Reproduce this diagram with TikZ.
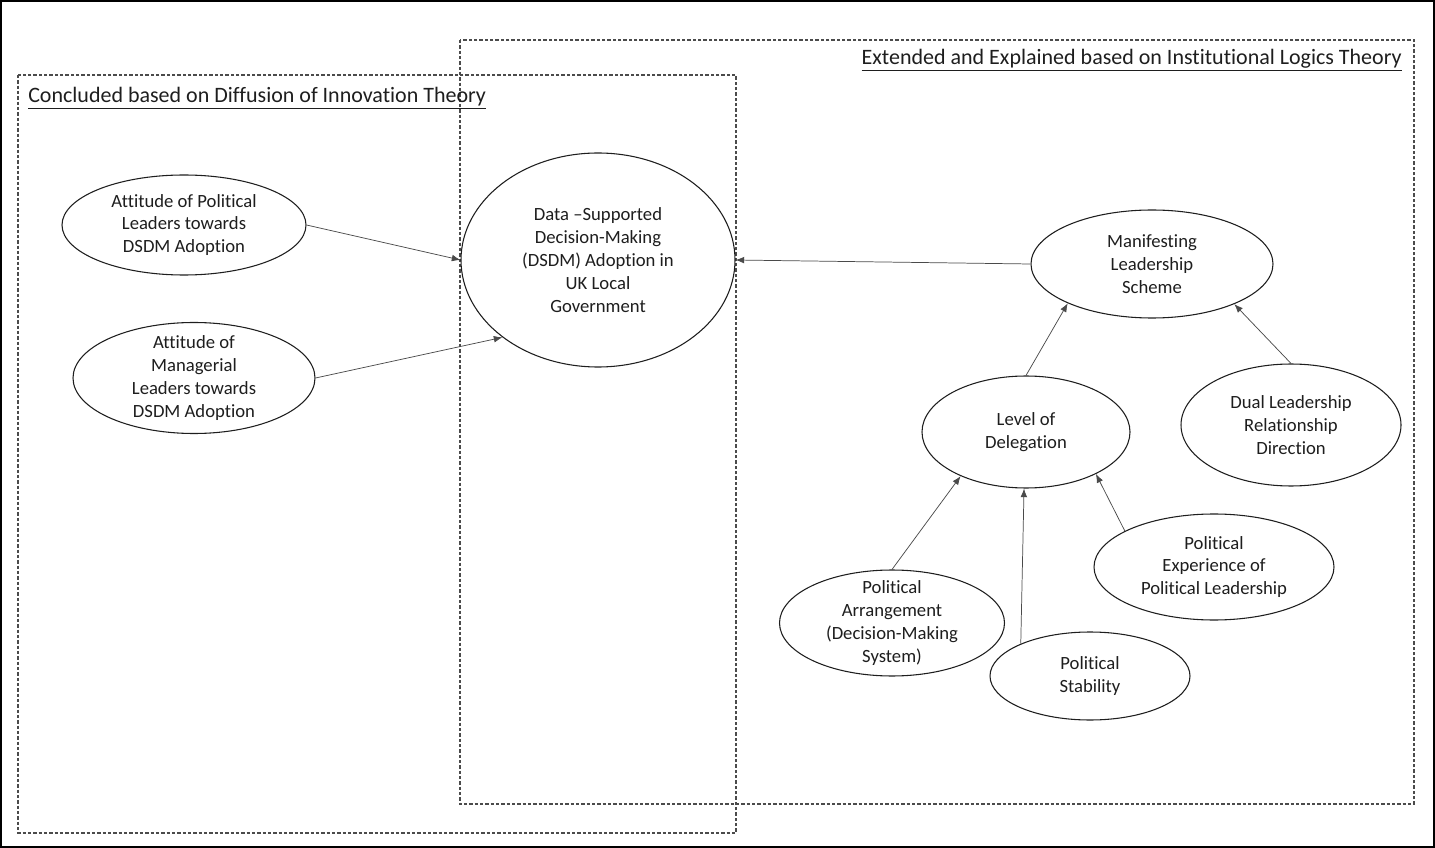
\documentclass[tikz,border=0pt]{standalone}
\usepackage{fontspec}
\setmainfont{Carlito}[Ligatures=NoCommon]
\usetikzlibrary{shapes.geometric,arrows.meta}
\definecolor{ink}{HTML}{1E1E1E}
\definecolor{arrowgray}{HTML}{4A4A4A}
\begin{document}
\begin{tikzpicture}[x=0.75pt,y=-0.75pt,
  every node/.style={font=\fontsize{14}{17.1}\selectfont, text=ink},
  esize/.style 2 args={minimum width=#1*0.75pt, minimum height=#2*0.75pt},
  concept/.style={draw=ink, line width=0.8pt, ellipse, inner sep=0pt, fill=white},
  txt/.style={label={[align=center, text=ink, font=\fontsize{14}{17.1}\selectfont]center:#1}},
  frame/.style={draw=ink!80, line width=0.8pt, dash pattern=on 2.4pt off 1.6pt},
  heading/.style={inner sep=0pt, font=\fontsize{16.5}{20}\selectfont},
  link/.style={draw=arrowgray, line width=0.55pt, -{Latex[length=6.5pt,width=5pt]}}
]
\useasboundingbox (0,0) rectangle (1435,848);
\draw[line width=1.6pt, black] (1,1) rectangle (1434,847);

% theory frames
\draw[frame] (18,75) rectangle (736,833);
\draw[frame] (460,40) rectangle (1414,804);
\node[heading, anchor=base west] (ldoi) at (28,103) {\underline{Concluded based on Diffusion of Innovation Theory}};
\node[heading, anchor=base east] (lilt) at (1402,65) {\underline{Extended and Explained based on Institutional Logics Theory}};

% concepts
\node[concept, esize={244}{100}, txt={Attitude of Political\\Leaders towards\\DSDM Adoption}] (pl) at (184,225) {};
\node[concept, esize={242}{111}, txt={Attitude of\\Managerial\\Leaders towards\\DSDM Adoption}] (ml) at (194,378) {};
\node[concept, esize={274}{214}, txt={Data --Supported\\Decision-Making\\(DSDM) Adoption in\\UK Local\\Government}] (ds) at (598,260) {};
\node[concept, esize={242}{108}, txt={Manifesting\\Leadership\\Scheme}] (ms) at (1152,264) {};
\node[concept, esize={208}{112}, txt={Level of\\Delegation}] (lv) at (1026,432) {};
\node[concept, esize={220}{122}, txt={Dual Leadership\\Relationship\\Direction}] (dl) at (1291,425) {};
\node[concept, esize={240}{106}, txt={Political\\Experience of\\Political Leadership}] (pe) at (1214,567) {};
\node[concept, esize={225}{106}, txt={Political\\Arrangement\\(Decision-Making\\System)}] (pa) at (892,623) {};
\node[concept, esize={200}{88}, txt={Political\\Stability}] (ps) at (1090,676) {};

% influences
\draw[link] (pl.east) -- (ds.west);
\draw[link] (ml.east) -- (ds.219);
\draw[link] (ms.west) -- (ds.east);
\draw[link] (lv.north) -- (ms.205);
\draw[link] (dl.north) -- (ms.334);
\draw[link] (pa.north) -- (lv.214);
\draw[link] (ps.155) -- (lv.268);
\draw[link] (pe.158) -- (lv.329);
\end{tikzpicture}
\end{document}
